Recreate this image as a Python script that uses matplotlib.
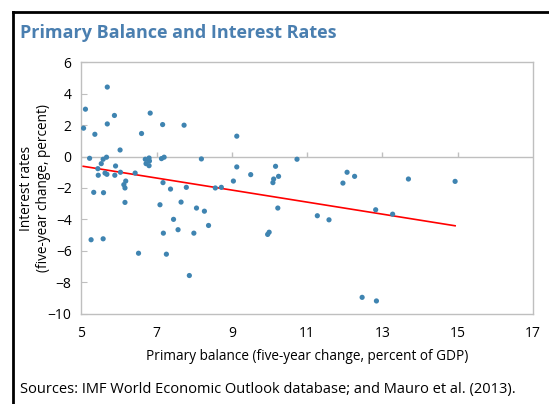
import matplotlib.pyplot as plt
from matplotlib.lines import Line2D

# data
balance = [5.06, 5.11, 5.69, 5.36, 5.69, 5.88, 6.03, 6.60, 6.83, 7.16, 7.73, 9.13,
           5.22, 5.58, 5.67, 5.53, 5.44, 5.45, 5.63, 5.68, 5.91, 5.89, 6.04, 6.43,
           6.70, 6.80, 6.81, 6.72, 6.80, 7.13, 7.20, 8.19, 9.13, 9.50, 9.04,
           6.18, 6.13, 6.16, 6.16, 5.33, 5.59, 5.26, 5.58, 6.52,
           7.17, 7.37, 7.09, 7.18, 7.26, 7.45, 7.57, 7.65, 7.79, 7.87, 7.99, 8.06,
           8.27, 8.38, 8.56, 8.72, 9.95, 9.99,
           10.73, 10.16, 10.11, 10.09, 10.24, 10.22, 12.06, 12.26, 11.95, 11.27,
           11.58, 12.82, 13.27, 13.69, 14.93, 12.46, 12.84]
rates = [1.81, 3.02, 4.43, 1.42, 2.08, 2.62, 0.42, 1.47, 2.77, 2.04, 2.00, 1.30,
         -0.11, -0.17, -0.04, -0.45, -0.77, -1.19, -1.05, -1.13, -0.60, -1.19, -1.00, -1.05,
         -0.17, -0.09, -0.28, -0.45, -0.58, -0.13, -0.04, -0.15, -0.66, -1.15, -1.56,
         -1.56, -1.79, -2.00, -2.92, -2.28, -2.30, -5.30, -5.24, -6.16,
         -1.66, -2.07, -3.07, -4.88, -6.22, -4.00, -4.66, -2.90, -1.96, -7.58, -4.88, -3.28,
         -3.48, -4.39, -2.00, -1.96, -4.96, -4.82,
         -0.17, -0.62, -1.43, -1.66, -1.26, -3.28, -1.00, -1.26, -1.69, -3.77,
         -4.03, -3.39, -3.67, -1.43, -1.58, -8.97, -9.20]

trend_x = [5.05, 14.93]
trend_y = [-0.62, -4.41]

xticks = [5, 7, 9, 11, 13, 15, 17]
yticks = [6, 4, 2, 0, -2, -4, -6, -8, -10]

GRID = "#BFBFBF"
FONT = ["Open Sans", "DejaVu Sans"]
plt.rcParams["font.family"] = FONT

fig = plt.figure(figsize=(5.49, 4.04), dpi=100)
ax = fig.add_axes([0.1481, 0.224, 0.8228, 0.6215])

ax.set_xlim(5, 17)
ax.set_ylim(-10, 6)
ax.set_xticks(xticks)
ax.set_yticks(yticks)
ax.tick_params(axis="x", length=0, pad=9, labelsize=10)
ax.tick_params(axis="y", direction="in", length=4, color=GRID, pad=7, labelsize=10)
for s in ax.spines.values():
    s.set_color(GRID)
    s.set_linewidth(1.0)

# zero line with its own tick marks
ax.axhline(0, color=GRID, lw=1.0, zorder=1)
ax.vlines(xticks[1:-1], 0, 0.27, color=GRID, lw=1.0, zorder=1)

ax.scatter(balance, rates, s=14, color="#3F84B1", edgecolors="none", zorder=3)
ax.plot(trend_x, trend_y, color="#FF0000", lw=1.2, zorder=2)

ax.set_xlabel("Primary balance (five-year change, percent of GDP)", fontsize=9.8, labelpad=6)
ax.set_ylabel("Interest rates\n(five-year change, percent)", fontsize=9.8, linespacing=1.15)
ax.yaxis.set_label_coords(-0.068, 0.5)

fig.text(0.036, 0.918, "Primary Balance and Interest Rates", fontsize=13,
         fontweight="bold", color="#4A7FB0", va="center")
fig.text(0.036, 0.037, "Sources: IMF World Economic Outlook database; and Mauro et al. (2013).",
         fontsize=10.5, va="center")

# outer black frame, cut by the image edge on the right and bottom
fig.add_artist(Line2D([0.023, 1.0], [0.97, 0.97], color="black", lw=2, transform=fig.transFigure))
fig.add_artist(Line2D([0.023, 0.023], [0.0, 0.97], color="black", lw=2, transform=fig.transFigure))

fig.savefig("out.png", dpi=100)
